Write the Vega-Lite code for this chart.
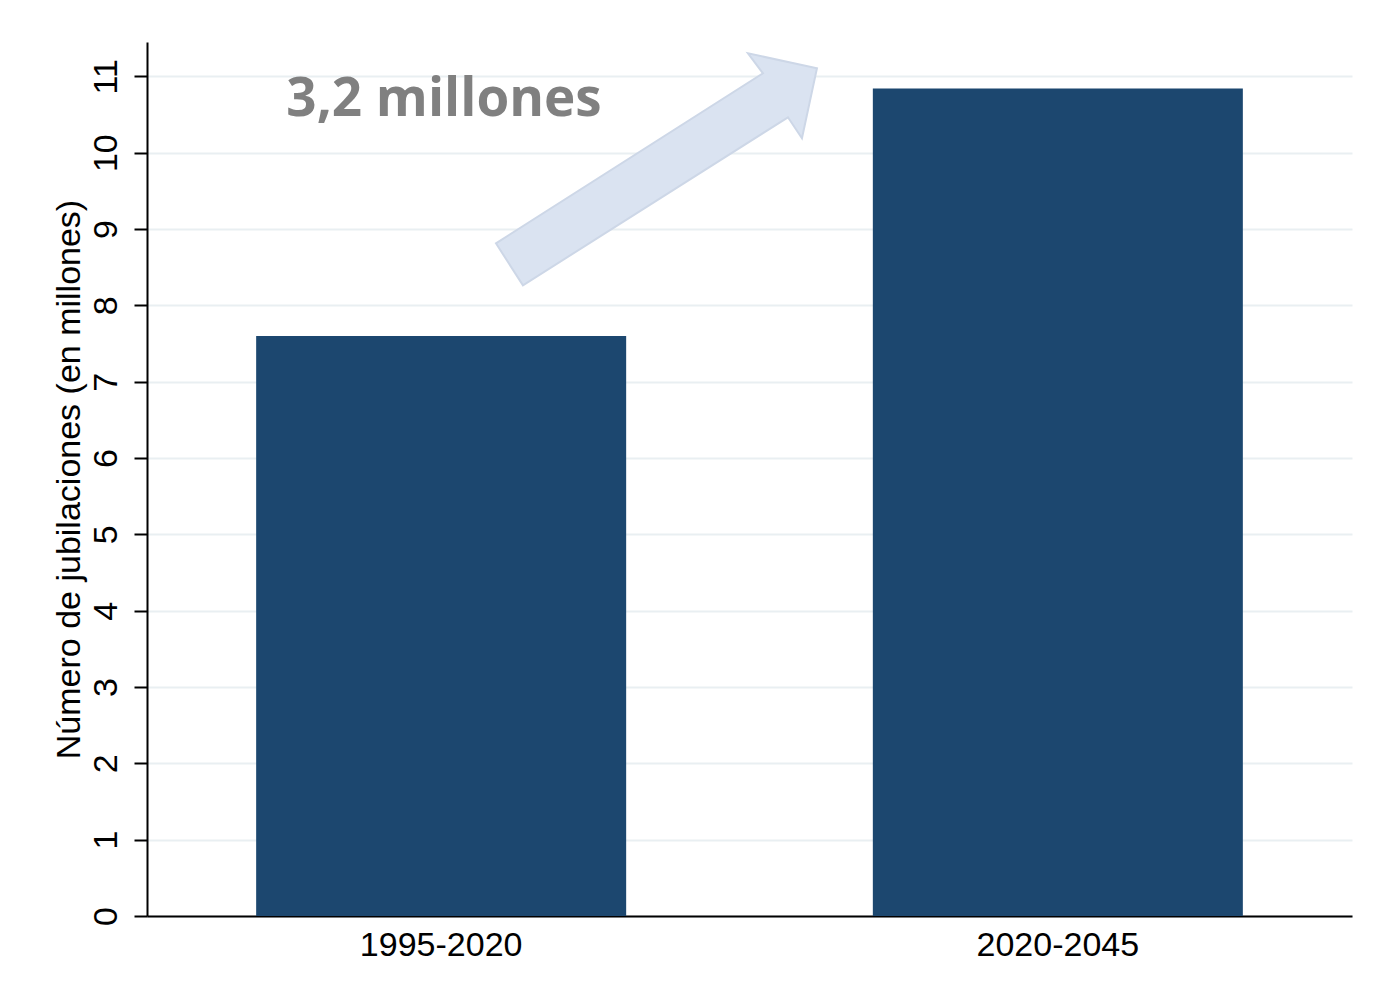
{
  "$schema": "https://vega.github.io/schema/vega-lite/v6.json",
  "autosize": "none",
  "width": 1205,
  "height": 874,
  "padding": {"left": 147, "top": 42, "right": 21, "bottom": 86},
  "background": "white",
  "config": {
    "view": {"stroke": null},
    "font": "Liberation Sans"
  },
  "layer": [
    {
      "data": {"values": [
        {"periodo": "1995-2020", "jubilaciones": 7.6},
        {"periodo": "2020-2045", "jubilaciones": 10.84}
      ]},
      "mark": {"type": "bar", "color": "#1c476f"},
      "encoding": {
        "x": {
          "field": "periodo", "type": "nominal",
          "scale": {"paddingInner": 0.4, "paddingOuter": 0.177},
          "axis": {
            "title": null, "labelAngle": 0, "labelFontSize": 34, "labelColor": "black",
            "labelFont": "Liberation Sans", "ticks": false, "labelPadding": 12,
            "domainColor": "black", "domainWidth": 2, "grid": false
          }
        },
        "y": {
          "field": "jubilaciones", "type": "quantitative",
          "scale": {"domain": [0, 11.45], "nice": false, "zero": true},
          "axis": {
            "title": "Número de jubilaciones (en millones)",
            "titleFontSize": 34, "titleFontWeight": "normal", "titleColor": "black",
            "titleFont": "Liberation Sans", "titlePadding": 3,
            "values": [0, 1, 2, 3, 4, 5, 6, 7, 8, 9, 10, 11], "format": "d",
            "labelAngle": -90, "labelFontSize": 34, "labelColor": "black",
            "labelFont": "Liberation Sans", "labelPadding": 11,
            "tickSize": 13, "tickColor": "black", "tickWidth": 2,
            "domainColor": "black", "domainWidth": 2,
            "grid": true, "gridColor": "#e9eff2", "gridWidth": 2
          }
        }
      }
    },
    {
      "data": {"values": [
        {"px": 0.4232, "py": 9.769}
      ]},
      "mark": {
        "type": "point", "filled": true, "opacity": 1,
        "shape": "M-161,73 L-134,115 L131,-53 L145,-32 L160,-102 L91,-117 L106,-97 Z",
        "size": 4, "fill": "#dae3f1", "stroke": "#cdd7e7", "strokeWidth": 2
      },
      "encoding": {
        "x": {"field": "px", "type": "quantitative", "scale": {"domain": [0, 1]}, "axis": null},
        "y": {"field": "py", "type": "quantitative"}
      }
    },
    {
      "data": {"values": [
        {"px": 0.2465, "py": 10.48, "etiqueta": "3,2 millones"}
      ]},
      "mark": {
        "type": "text", "font": "Open Sans", "fontWeight": "bold", "fontSize": 53,
        "color": "#808080", "align": "center", "baseline": "alphabetic"
      },
      "encoding": {
        "x": {"field": "px", "type": "quantitative", "scale": {"domain": [0, 1]}, "axis": null},
        "y": {"field": "py", "type": "quantitative"},
        "text": {"field": "etiqueta"}
      }
    }
  ],
  "resolve": {"scale": {"x": "independent"}}
}
